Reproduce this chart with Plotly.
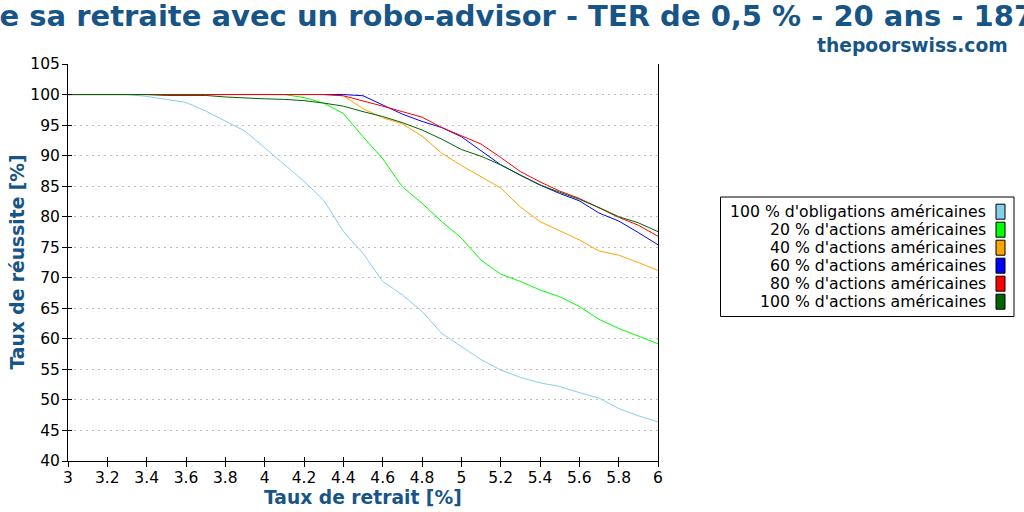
import plotly.graph_objects as go

# ---------------- data ----------------
withdrawal_rates = [3.0, 3.1, 3.2, 3.3, 3.4, 3.5, 3.6, 3.7, 3.8, 3.9,
                    4.0, 4.1, 4.2, 4.3, 4.4, 4.5, 4.6, 4.7, 4.8, 4.9,
                    5.0, 5.1, 5.2, 5.3, 5.4, 5.5, 5.6, 5.7, 5.8, 5.9, 6.0]

bonds_100 = [100, 100, 100, 100, 99.7, 99.2, 98.7, 97.3, 95.7, 94.0,
             91.3, 88.6, 85.8, 82.7, 77.6, 74.0, 69.4, 67.2, 64.5, 60.9,
             58.7, 56.6, 54.9, 53.7, 52.8, 52.2, 51.2, 50.3, 48.6, 47.4, 46.4]

stocks_20 = [100, 100, 100, 100, 100, 100, 100, 100, 100, 100,
             100, 100, 99.5, 98.6, 96.9, 93.1, 89.5, 84.9, 82.2, 79.2,
             76.5, 72.9, 70.6, 69.4, 68.0, 66.9, 65.3, 63.2, 61.7, 60.4, 59.2]

stocks_40 = [100, 100, 100, 100, 100, 100, 100, 100, 100, 100,
             100, 100, 100, 100, 99.8, 97.7, 96.2, 95.2, 93.2, 90.4,
             88.4, 86.6, 84.7, 81.6, 79.2, 77.7, 76.2, 74.4, 73.7, 72.5, 71.2]

stocks_60 = [100, 100, 100, 100, 100, 100, 100, 100, 100, 100,
             100, 100, 100, 100, 100, 99.8, 98.3, 96.8, 95.6, 94.6,
             93.1, 90.8, 88.5, 86.8, 85.2, 83.8, 82.6, 80.6, 79.3, 77.4, 75.4]

stocks_80 = [100, 100, 100, 100, 100, 100, 100, 100, 100, 100,
             100, 100, 100, 100, 99.8, 99.0, 98.1, 97.2, 96.3, 94.6,
             93.2, 91.9, 89.7, 87.4, 85.7, 84.2, 83.0, 81.4, 79.9, 78.6, 76.8]

stocks_100 = [100, 100, 100, 100, 100, 99.85, 99.85, 99.85, 99.6, 99.4,
              99.3, 99.2, 99.0, 98.6, 98.1, 97.2, 96.4, 95.4, 94.2, 92.7,
              91.0, 89.9, 88.5, 86.8, 85.2, 84.0, 82.85, 81.5, 80.0, 79.0, 77.55]

series_names = ["100 % d'obligations américaines",
                "20 % d'actions américaines",
                "40 % d'actions américaines",
                "60 % d'actions américaines",
                "80 % d'actions américaines",
                "100 % d'actions américaines"]
series_values = [bonds_100, stocks_20, stocks_40, stocks_60, stocks_80, stocks_100]
series_colors = ["#87ceeb", "#00ff00", "#ffa500", "#0000ff", "#ff0000", "#006400"]

x_ticks = [3, 3.2, 3.4, 3.6, 3.8, 4, 4.2, 4.4, 4.6, 4.8, 5, 5.2, 5.4, 5.6, 5.8, 6]
y_ticks = list(range(40, 106, 5))

title_text = "Réussite de sa retraite avec un robo-advisor - TER de 0,5 % - 20 ans - 1871-2023"
subtitle_text = "thepoorswiss.com"
x_title = "Taux de retrait [%]"
y_title = "Taux de réussite [%]"

# ---------------- layout geometry ----------------
W, H = 1024, 512
L, R, T, B = 68, 658, 64, 461
TITLE_COLOR = "#185587"
FONT = "DejaVu Sans"


def px(xp):
    return (xp - L) / (R - L)


def py(yp):
    return (B - yp) / (B - T)


fig = go.Figure()
for name, vals, col in zip(series_names, series_values, series_colors):
    fig.add_trace(go.Scatter(x=withdrawal_rates, y=vals, mode="lines", name=name,
                             line=dict(color=col, width=1), showlegend=False,
                             hoverinfo="skip"))

axis_common = dict(showline=True, linecolor="black", linewidth=1,
                   ticks="outside", ticklen=5, tickcolor="black", tickwidth=1,
                   tickfont=dict(family=FONT, size=15.5, color="black"),
                   zeroline=False)

fig.update_layout(
    width=W, height=H,
    margin=dict(l=L, r=W - R, t=T, b=H - B),
    paper_bgcolor="white", plot_bgcolor="white",
    font=dict(family=FONT, color="black"),
    xaxis=dict(range=[3, 6], tickvals=x_ticks, ticktext=[f"{v:g}" for v in x_ticks],
               showgrid=False, ticklabelstandoff=-3, **axis_common),
    yaxis=dict(range=[40, 105], tickvals=y_ticks, showgrid=True,
               gridcolor="#c0c0c0", griddash="2px,4px", gridwidth=1,
               mirror=True, ticklabelstandoff=-1, **axis_common),
    # inner half of crossing ticks
    xaxis2=dict(range=[3, 6], tickvals=x_ticks, overlaying="x", anchor="y",
                showticklabels=False, ticks="inside", ticklen=4, tickcolor="black",
                showgrid=False, zeroline=False, showline=False),
    yaxis2=dict(range=[40, 105], tickvals=y_ticks, overlaying="y", anchor="x",
                side="left", showticklabels=False, ticks="inside", ticklen=4,
                tickcolor="black", showgrid=False, zeroline=False, showline=False),
)
# invisible helper trace that activates the secondary (tick-only) axes
fig.add_trace(go.Scatter(x=[withdrawal_rates[0]], y=[bonds_100[0]], xaxis="x2", yaxis="y2",
                         mode="markers", marker=dict(opacity=0), showlegend=False,
                         hoverinfo="skip"))

annotations = [
    dict(text=title_text, xref="paper", yref="paper", x=px(-174), y=py(16),
         xanchor="left", yanchor="middle", showarrow=False,
         font=dict(family=FONT, size=29, weight="bold", color=TITLE_COLOR)),
    dict(text=subtitle_text, xref="paper", yref="paper", x=px(1010), y=py(45),
         xanchor="right", yanchor="middle", showarrow=False,
         font=dict(family=FONT, size=18.7, weight="bold", color=TITLE_COLOR)),
    dict(text=x_title, xref="paper", yref="paper", x=px((L + R) / 2), y=py(497),
         xanchor="center", yanchor="middle", showarrow=False,
         font=dict(family=FONT, size=18.7, weight="bold", color=TITLE_COLOR)),
    dict(text=y_title, xref="paper", yref="paper", x=px(17), y=py((T + B) / 2),
         xanchor="center", yanchor="middle", textangle=-90, showarrow=False,
         font=dict(family=FONT, size=18.7, weight="bold", color=TITLE_COLOR)),
]

shapes = [dict(type="rect", xref="paper", yref="paper",
               x0=px(720.5), x1=px(1014), y0=py(197), y1=py(316.5),
               line=dict(color="black", width=1), fillcolor="white", layer="above")]

row0, row_step = 211.7, 18
for i, (name, col) in enumerate(zip(series_names, series_colors)):
    cy = row0 + i * row_step
    annotations.append(dict(text=name, xref="paper", yref="paper", x=px(988), y=py(cy),
                            xanchor="right", yanchor="middle", showarrow=False,
                            font=dict(family=FONT, size=15.7, color="black")))
    shapes.append(dict(type="rect", xref="paper", yref="paper",
                       x0=px(996), x1=px(1005), y0=py(cy - 7.5), y1=py(cy + 7.5),
                       line=dict(color="black", width=1), fillcolor=col, layer="above"))

fig.update_layout(annotations=annotations, shapes=shapes)

fig.write_html("out.html")
